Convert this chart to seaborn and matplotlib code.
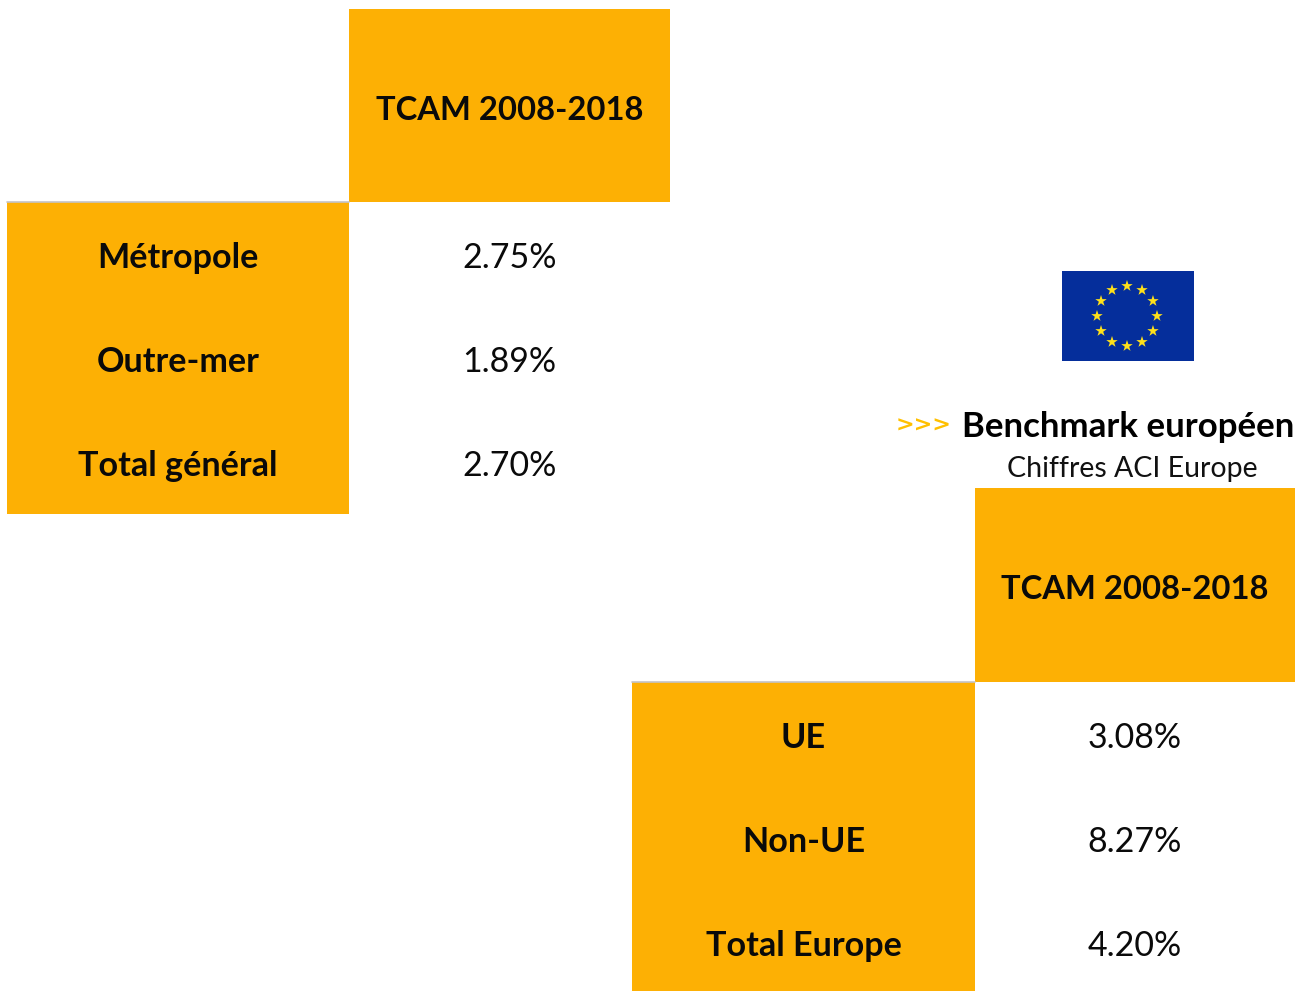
import numpy as np
import pandas as pd
import matplotlib
matplotlib.use("Agg")
import matplotlib.pyplot as plt
from matplotlib.colors import ListedColormap
import seaborn as sns

header = "TCAM 2008-2018"
rows_fr = ["Métropole", "Outre-mer", "Total général"]
values_fr = ["2.75%", "1.89%", "2.70%"]
rows_eu = ["UE", "Non-UE", "Total Europe"]
values_eu = ["3.08%", "8.27%", "4.20%"]
star_hours = list(range(12))
title_mark = ">>>"
title_text = "Benchmark européen"
subtitle = "Chiffres ACI Europe"

W, H = 1308, 991
ORANGE = "#FDB004"
sns.set_theme(style="white")
plt.rcParams["font.family"] = ["Lato", "DejaVu Sans"]
fig = plt.figure(figsize=(W / 100, H / 100), dpi=100, facecolor="white")


def px_axes(x0, y0, x1, y1):
    return fig.add_axes([x0 / W, 1 - y1 / H, (x1 - x0) / W, (y1 - y0) / H])


def block(box, labels, colour, size, weight, dy=4.0):
    ax = px_axes(*box)
    data = pd.DataFrame(np.zeros((len(labels), 1)))
    annot = np.array(labels, dtype=object).reshape(-1, 1)
    sns.heatmap(data, ax=ax, cmap=ListedColormap([colour]), annot=annot, fmt="",
                cbar=False, xticklabels=False, yticklabels=False,
                annot_kws=dict(color="#0a0a0a", fontsize=size, fontweight=weight))
    row_h = (box[3] - box[1]) / len(labels)
    for t in ax.texts:
        x, y = t.get_position()
        t.set_position((x, y + dy / row_h))
    return ax


def table(x0, x1, x2, y0, y1, y2, rows, values):
    block((x1, y0, x2, y1), [header], ORANGE, 23.6, "bold", 4.5)
    block((x0, y1, x1, y2), rows, ORANGE, 24.6, "bold", 4)
    fig.add_artist(plt.Line2D([x0 / W, x1 / W], [1 - y1 / H] * 2, color="#c4c4c8", lw=1.2))
    block((x1, y1, x2, y2), values, "white", 24.5, "normal", 4)


table(7, 349, 670, 9, 202, 514, rows_fr, values_fr)
table(632, 975, 1295, 488, 682, 994, rows_eu, values_eu)

# EU flag
flag = px_axes(1062, 271, 1194, 361)
flag.set_facecolor("#052E9B")
flag.set_xlim(-66, 66)
flag.set_ylim(-45, 45)
flag.set_xticks([])
flag.set_yticks([])
for s in flag.spines.values():
    s.set_visible(False)
angles = np.deg2rad(np.array(star_hours) * 30)
sns.scatterplot(x=30 * np.sin(angles) - 1, y=30 * np.cos(angles), ax=flag, marker="*",
                s=75, color="#FFE11A", edgecolor="none", legend=False)

fig.text(952 / W, 1 - 426 / H, title_mark, ha="right", va="center", color="#FFC000",
         fontsize=16, fontweight="bold", family="DejaVu Sans")
fig.text(962 / W, 1 - 427 / H, title_text, ha="left", va="center", color="black",
         fontsize=25.1, fontweight="bold")
fig.text(1132 / W, 1 - 469 / H, subtitle, ha="center", va="center", color="#111111",
         fontsize=20.5)

fig.savefig("out.png", dpi=100, facecolor="white")
